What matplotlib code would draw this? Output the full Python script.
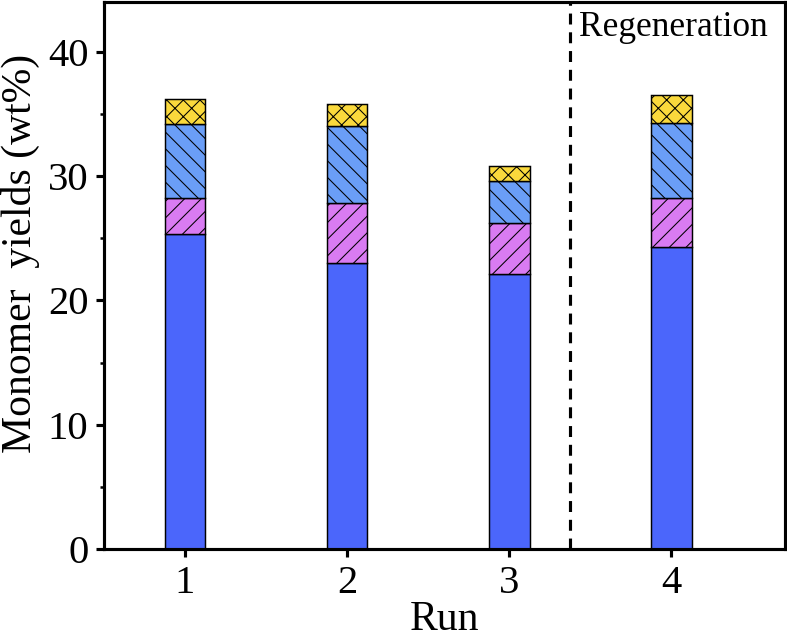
import matplotlib
matplotlib.use('Agg')
import matplotlib.pyplot as plt
from matplotlib.ticker import MultipleLocator
import numpy as np

# data (wt%)
runs = [1, 2, 3, 4]
run_labels = ['1', '2', '3', '4']
seg1 = [25.3, 23.0, 22.1, 24.3]
seg2 = [2.9, 4.8, 4.1, 3.9]
seg3 = [6.0, 6.2, 3.4, 6.1]
seg4 = [2.0, 1.8, 1.2, 2.2]

colors = ['#4B66FB', '#D97BF2', '#6A9EF7', '#FAD93C']
hatches = [None, '///', '\\\\\\', 'xxx']

plt.rcParams['font.family'] = ['Liberation Serif', 'DejaVu Serif']
plt.rcParams['hatch.linewidth'] = 0.5

fig = plt.figure(figsize=(787/150, 633/150), dpi=150)
ax = fig.add_axes([0.1321, 0.1327, 0.8653, 0.8641])

bottom = np.zeros(len(runs))
for vals, c, h in zip([seg1, seg2, seg3, seg4], colors, hatches):
    ax.bar(runs, vals, width=0.25, bottom=bottom, color=c, hatch=h,
           edgecolor='black', linewidth=0.7)
    bottom += np.array(vals)

ax.axvline(3.375, color='black', linewidth=1.5, dashes=(3.5, 2.5))
ax.text(3.43, 43.3, 'Regeneration', fontsize=17, va='top', ha='left')

ax.set_xlim(0.5, 4.7)
ax.set_ylim(0, 44)
ax.set_xticks(runs)
ax.set_xticklabels(run_labels)
ax.yaxis.set_major_locator(MultipleLocator(10))
ax.yaxis.set_minor_locator(MultipleLocator(5))
ax.tick_params(axis='both', which='major', length=4, width=1.5, labelsize=19.5, direction='out')
ax.tick_params(axis='y', which='minor', length=2, width=1.2, direction='out')
for s in ax.spines.values():
    s.set_linewidth(1.5)

ax.set_xlabel('Run', fontsize=20)
ax.xaxis.set_label_coords(0.5, -0.148)
ax.xaxis.label.set_va('baseline')
ax.set_ylabel('Monomer  yields (wt%)', fontsize=20)
ax.yaxis.set_label_coords(-0.094, 0.54)

fig.savefig('out.png', dpi=150)
